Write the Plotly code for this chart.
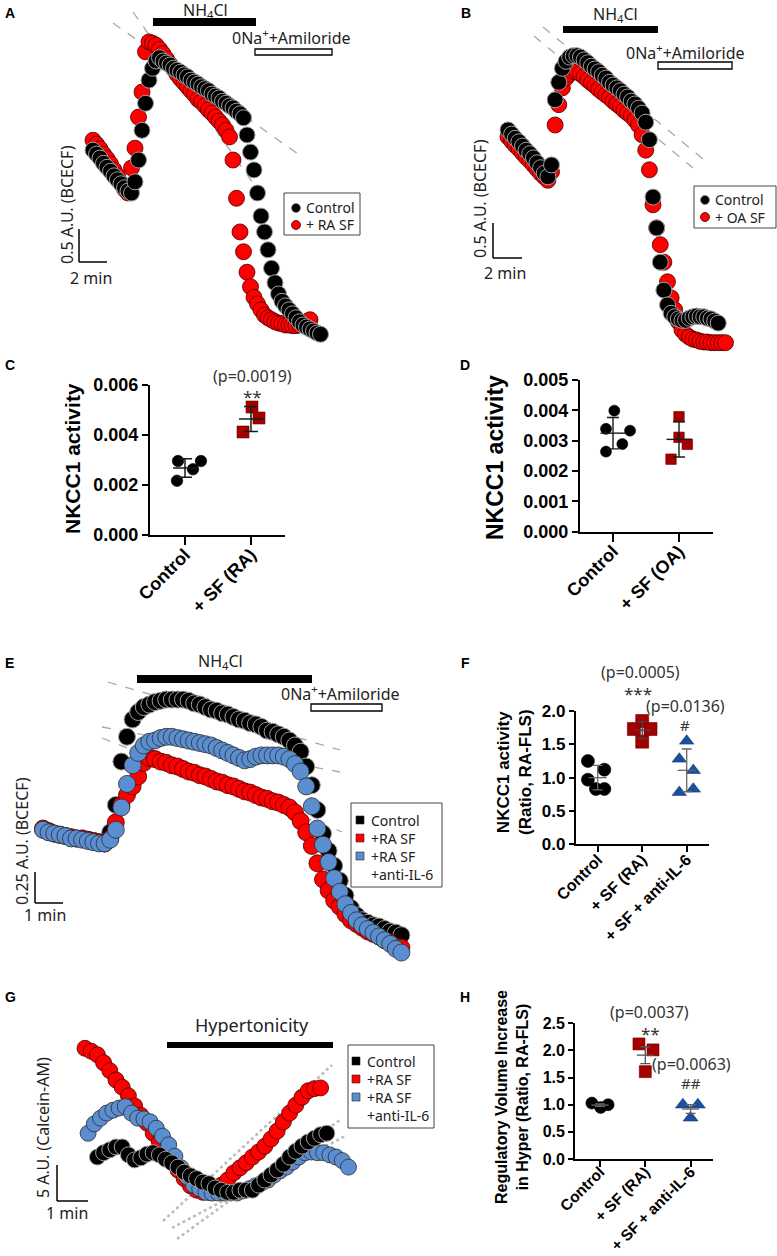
import numpy as np
import plotly.graph_objects as go

W, H = 777, 1256

# ============================ DATA ============================
# A: BCECF trace (A.U.), one sample every 0.25 min
A_SAMPLE_MIN = 0.25
A_control = [3.18, 3.12, 3.06, 2.98, 2.92, 2.86, 2.79, 2.73, 2.67, 2.61, 2.56, 2.53, 2.70, 3.03,
             3.48, 3.89, 4.24, 4.42, 4.53, 4.58, 4.53, 4.50, 4.47, 4.42, 4.39, 4.36, 4.32, 4.29,
             4.24, 4.21, 4.18, 4.14, 4.11, 4.08, 4.03, 4.00, 3.97, 3.92, 3.89, 3.85, 3.82, 3.77,
             3.73, 3.67, 3.41, 3.15, 2.88, 2.53, 2.18, 1.94, 1.67, 1.39, 1.17, 1.00, 0.89, 0.82,
             0.76, 0.70, 0.64, 0.58, 0.53, 0.50, 0.47, 0.44, 0.41, 0.39]
A_ra_sf = [3.33, 3.27, 3.20, 3.12, 3.05, 2.97, 2.88, 2.79, 2.68, 2.59, 2.53, 2.91, 3.21, 3.68,
           4.06, 4.67, 4.82, 4.80, 4.77, 4.71, 4.64, 4.56, 4.48, 4.41, 4.33, 4.26, 4.20, 4.14,
           4.08, 4.02, 3.95, 3.91, 3.85, 3.79, 3.74, 3.68, 3.62, 3.56, 3.48, 3.38, 3.03, 2.45,
           1.94, 1.64, 1.33, 1.11, 0.95, 0.85, 0.76, 0.68, 0.64, 0.61, 0.58, 0.56, 0.55, 0.53,
           0.53, 0.52, 0.52, 0.53, 0.55, 0.58, 0.61]

# B: BCECF trace (A.U.), one sample every 0.25 min
B_SAMPLE_MIN = 0.25
B_control = [3.43, 3.37, 3.31, 3.26, 3.20, 3.14, 3.09, 3.03, 2.96, 2.89, 2.81, 2.76, 2.93, 3.86,
             4.11, 4.31, 4.41, 4.47, 4.49, 4.49, 4.47, 4.43, 4.39, 4.34, 4.30, 4.26, 4.21, 4.17,
             4.11, 4.07, 4.03, 3.99, 3.94, 3.90, 3.84, 3.80, 3.74, 3.67, 3.54, 3.29, 2.47, 2.03,
             1.54, 1.14, 0.93, 0.81, 0.76, 0.73, 0.71, 0.71, 0.74, 0.76, 0.77, 0.76, 0.76, 0.74,
             0.73, 0.70, 0.67]
B_oa_sf = [3.33, 3.27, 3.21, 3.16, 3.10, 3.04, 2.99, 2.93, 2.87, 2.81, 2.76, 2.71, 2.83, 3.50,
           3.79, 4.03, 4.17, 4.23, 4.26, 4.26, 4.23, 4.19, 4.14, 4.10, 4.06, 4.01, 3.97, 3.93,
           3.89, 3.84, 3.80, 3.76, 3.71, 3.67, 3.63, 3.57, 3.50, 3.36, 3.14, 2.86, 2.36, 2.03,
           1.79, 1.54, 1.26, 1.03, 0.86, 0.69, 0.57, 0.51, 0.47, 0.44, 0.43, 0.41, 0.40, 0.40,
           0.39, 0.39, 0.39, 0.39, 0.39]

# C: NKCC1 activity
C_categories = ["Control", "+ SF (RA)"]
C_control = [0.00296, 0.00296, 0.00263, 0.00217]
C_sf_ra = [0.00512, 0.00468, 0.00412]

# D: NKCC1 activity
D_categories = ["Control", "+ SF (OA)"]
D_control = [0.00399, 0.00339, 0.00333, 0.00289, 0.00264]
D_sf_oa = [0.00379, 0.00311, 0.00288, 0.00239]

# E: BCECF trace (A.U.), one sample every 0.2 min
E_SAMPLE_MIN = 0.2
E_control = [1.05, 1.03, 1.02, 1.01, 1.00, 0.99, 0.98, 0.98, 0.97, 0.96, 0.95, 0.94, 1.03, 1.25,
             1.60, 1.80, 1.94, 2.00, 2.04, 2.06, 2.08, 2.09, 2.10, 2.10, 2.10, 2.10, 2.09, 2.07,
             2.06, 2.04, 2.02, 2.01, 1.99, 1.98, 1.96, 1.94, 1.93, 1.91, 1.90, 1.88, 1.85, 1.84,
             1.82, 1.80, 1.77, 1.73, 1.68, 1.56, 1.41, 1.21, 1.02, 0.88, 0.76, 0.64, 0.52, 0.42,
             0.36, 0.32, 0.30, 0.28, 0.27, 0.25, 0.23, 0.22, 0.20]
E_ra_sf = [1.06, 1.04, 1.02, 1.01, 1.00, 0.99, 0.98, 0.98, 0.97, 0.96, 0.95, 0.94, 0.98, 1.11,
           1.25, 1.33, 1.40, 1.48, 1.59, 1.63, 1.62, 1.60, 1.59, 1.57, 1.56, 1.54, 1.52, 1.51,
           1.49, 1.48, 1.46, 1.44, 1.43, 1.41, 1.40, 1.38, 1.36, 1.35, 1.33, 1.31, 1.30, 1.28,
           1.27, 1.25, 1.23, 1.19, 1.12, 1.03, 0.92, 0.78, 0.65, 0.56, 0.48, 0.43, 0.37, 0.32,
           0.29, 0.26, 0.23, 0.21, 0.19, 0.16, 0.14, 0.11, 0.10]
E_ra_sf_il6 = [1.05, 1.03, 1.02, 1.01, 1.00, 0.98, 0.98, 0.97, 0.96, 0.95, 0.94, 0.94, 0.97, 1.05,
               1.23, 1.42, 1.57, 1.67, 1.73, 1.76, 1.77, 1.79, 1.80, 1.80, 1.79, 1.78, 1.77, 1.76,
               1.75, 1.74, 1.73, 1.71, 1.69, 1.67, 1.65, 1.63, 1.61, 1.62, 1.64, 1.65, 1.65, 1.65,
               1.65, 1.64, 1.62, 1.58, 1.52, 1.40, 1.24, 1.06, 0.93, 0.79, 0.66, 0.55, 0.45, 0.38,
               0.32, 0.28, 0.25, 0.22, 0.19, 0.16, 0.13, 0.09, 0.06]

# F: NKCC1 activity (ratio)
F_categories = ["Control", "+ SF (RA)", "+ SF + anti-IL-6"]
F_control = [1.25, 1.12, 0.97, 0.83, 0.83]
F_sf_ra = [1.85, 1.73, 1.73, 1.54]
F_sf_il6 = [1.55, 1.28, 1.11, 0.78, 0.83]

# G: Calcein-AM trace (A.U.), one sample every 0.2 min
G_SAMPLE_MIN = 0.2
G_start_min = {"control": 0.4, "ra": 0.0, "il6": 0.1}
G_control = [14.3, 14.9, 15.3, 15.7, 15.7, 14.6, 13.9, 14.2, 14.7, 14.9, 14.6, 14.0, 13.5, 12.9,
             12.2, 11.7, 11.3, 10.8, 10.6, 10.0, 9.7, 9.4, 9.4, 9.7, 9.7, 9.7, 10.4, 11.1, 11.8,
             12.5, 13.3, 14.3, 15.1, 15.8, 16.4, 16.9, 17.4, 17.6]
G_ra_sf = [29.4, 29.0, 28.5, 27.4, 26.3, 25.0, 24.0, 22.8, 21.4, 20.1, 19.0, 17.6, 16.4, 15.1,
           13.8, 12.5, 11.3, 10.3, 9.7, 9.4, 9.4, 9.9, 10.4, 11.1, 12.1, 12.8, 13.5, 14.3, 15.0,
           15.8, 16.8, 17.9, 19.2, 20.4, 21.5, 22.6, 23.5, 23.8, 23.9]
G_ra_sf_il6 = [17.6, 18.9, 19.7, 20.4, 20.8, 21.1, 21.3, 20.4, 19.7, 19.6, 19.2, 18.3, 17.2, 16.0,
               14.4, 12.8, 11.5, 10.4, 9.9, 9.4, 9.3, 9.3, 9.3, 9.3, 9.3, 9.6, 9.9, 10.3, 10.7,
               11.1, 11.8, 12.4, 12.9, 13.6, 14.3, 14.9, 15.0, 14.9, 14.9, 14.6, 14.3, 13.8, 12.9]

# H: Regulatory volume increase (ratio)
H_categories = ["Control", "+ SF (RA)", "+ SF + anti-IL-6"]
H_control = [1.03, 0.95, 1.00]
H_sf_ra = [2.12, 2.01, 1.61]
H_sf_il6 = [1.00, 1.00, 0.76]

# ============================ STYLE / LAYOUT ============================
ARIAL = "Arial, 'Liberation Sans', Helvetica, sans-serif"
SANS = "'Noto Sans', 'Open Sans', 'DejaVu Sans', sans-serif"
TXT = "#222222"

BLACK_M = dict(color="black", line=dict(color="#a0a0a0", width=1))
RED_M = dict(color="#ff0000", line=dict(color="#4a0000", width=0.8))
BLUE_M = dict(color="#5b8ed0", line=dict(color="#2b2b2b", width=0.8))
DARKRED = "#a30000"
DARKBLUE = "#1d4f9c"

# horizontal scatter offsets of the dots inside each group (category units)
OFFSETS = {
    "C_control": [-0.106, 0.242, 0.121, -0.121], "C_sf_ra": [0.015, 0.121, -0.121],
    "D_control": [0.02, -0.106, 0.258, 0.141, -0.106], "D_sf_oa": [0.0, 0.0, 0.126, -0.121],
    "F_control": [-0.22, 0.15, -0.22, -0.04, 0.15], "F_sf_ra": [0.0, -0.187, 0.187, 0.0],
    "F_sf_il6": [0.0, -0.166, 0.148, -0.166, 0.148],
    "H_control": [-0.18, 0.015, 0.18], "H_sf_ra": [-0.14, 0.17, 0.0], "H_sf_il6": [-0.17, 0.16, 0.0],
}


def fx(px):
    return px / W


def fy(py):
    return 1 - py / H


fig = go.Figure()
layout = {}


def axn(n):
    return "" if n == 1 else str(n)


def hidden_axes(n, xpx, ypx, xr, yr):
    s = axn(n)
    layout["xaxis" + s] = dict(domain=[fx(xpx[0]), fx(xpx[1])], range=xr, visible=False,
                               anchor="y" + s, fixedrange=True, automargin=False)
    layout["yaxis" + s] = dict(domain=[fy(ypx[1]), fy(ypx[0])], range=yr, visible=False,
                               anchor="x" + s, fixedrange=True, automargin=False)


def cat_axes(n, xpx, ypx, xr, yr, ticktext, ytickvals, yfmt, fs_y, fs_x, lw, xticklen=8,
             yticklen=6, standoff=-8):
    s = axn(n)
    layout["xaxis" + s] = dict(
        domain=[fx(xpx[0]), fx(xpx[1])], range=xr, showline=True, linecolor="black", linewidth=lw,
        ticks="outside", ticklen=xticklen, tickwidth=lw, tickcolor="black",
        tickvals=list(range(len(ticktext))), ticktext=ticktext, tickangle=-45,
        ticklabelstandoff=standoff,
        tickfont=dict(family=ARIAL, size=fs_x, color="black", weight="bold"),
        showgrid=False, zeroline=False, anchor="y" + s, fixedrange=True, automargin=False)
    layout["yaxis" + s] = dict(
        domain=[fy(ypx[1]), fy(ypx[0])], range=yr, showline=True, linecolor="black", linewidth=lw,
        ticks="outside", ticklen=yticklen, tickwidth=lw, tickcolor="black",
        tickvals=ytickvals, tickformat=yfmt,
        tickfont=dict(family=ARIAL, size=fs_y, color="black", weight="bold"),
        showgrid=False, zeroline=False, anchor="x" + s, fixedrange=True, automargin=False)


def add_series(n, values, dt, t0, marker, size):
    s = axn(n)
    t = t0 + dt * np.arange(len(values))
    fig.add_trace(go.Scatter(x=t, y=values, mode="markers", xaxis="x" + s, yaxis="y" + s,
                             marker=dict(size=size, **marker), cliponaxis=False,
                             showlegend=False, hoverinfo="skip"))


def add_group(n, idx, values, offsets, symbol, color, size, edge, err_color, kind,
              mean_len, cap_len, thick=1.3):
    s = axn(n)
    v = np.array(values, dtype=float)
    fig.add_trace(go.Scatter(x=idx + np.array(offsets), y=v, mode="markers", xaxis="x" + s,
                             yaxis="y" + s, cliponaxis=False, showlegend=False, hoverinfo="skip",
                             marker=dict(symbol=symbol, size=size, color=color,
                                         line=dict(color=edge, width=0.6))))
    m = v.mean()
    e = v.std(ddof=1)
    if kind == "sem":
        e = e / np.sqrt(len(v))
    fig.add_trace(go.Scatter(x=[idx], y=[m], mode="markers", xaxis="x" + s, yaxis="y" + s,
                             cliponaxis=False, showlegend=False, hoverinfo="skip",
                             marker=dict(symbol="line-ew", size=mean_len / 1.4, color=err_color,
                                         line=dict(color=err_color, width=thick)),
                             error_y=dict(type="data", array=[e], visible=True, width=cap_len / 2,
                                          thickness=thick, color=err_color)))


# ---------- trace panels ----------
# A
hidden_axes(1, (80, 360), (30, 350), [-13 / 14, 267 / 14], [10 / 66, 330 / 66])
add_series(1, A_ra_sf, A_SAMPLE_MIN, 0.0, RED_M, 16)
add_series(1, A_control, A_SAMPLE_MIN, 0.0, BLACK_M, 16)
# B
hidden_axes(2, (490, 777), (20, 355), [-18 / 14.5, 269 / 14.5], [15 / 70, 350 / 70])
add_series(2, B_oa_sf, B_SAMPLE_MIN, 0.0, RED_M, 16)
add_series(2, B_control, B_SAMPLE_MIN, 0.0, BLACK_M, 16)
# E
hidden_axes(5, (30, 445), (680, 965), [-13 / 28, 402 / 28], [-5 / 124, 280 / 124])
add_series(5, E_control, E_SAMPLE_MIN, 0.0, BLACK_M, 17)
add_series(5, E_ra_sf, E_SAMPLE_MIN, 0.0, RED_M, 17)
add_series(5, E_ra_sf_il6, E_SAMPLE_MIN, 0.0, BLUE_M, 17)
# G
hidden_axes(7, (30, 445), (1030, 1245), [-55 / 31, 360 / 31], [15 / 7.2, 230 / 7.2])
add_series(7, G_ra_sf, G_SAMPLE_MIN, G_start_min["ra"], RED_M, 16)
add_series(7, G_ra_sf_il6, G_SAMPLE_MIN, G_start_min["il6"], BLUE_M, 16)
add_series(7, G_control, G_SAMPLE_MIN, G_start_min["control"], BLACK_M, 16)

# ---------- dot plots ----------
# C
cat_axes(3, (150, 285), (385, 535), [-35 / 66, 100 / 66], [0, 0.006], C_categories,
         [0, 0.002, 0.004, 0.006], ".3f", 18, 18, 2.3)
add_group(3, 0, C_control, OFFSETS["C_control"], "circle", "black", 11.5, "black", "#1a1a1a", "sd", 24, 14, 1.5)
add_group(3, 1, C_sf_ra, OFFSETS["C_sf_ra"], "square", DARKRED, 12, "#700000", "#1a1a1a", "sd", 24, 14, 1.5)
# D
cat_axes(4, (580, 713), (380, 531.7), [-33 / 66, 100 / 66], [0, 0.005], D_categories,
         [0, 0.001, 0.002, 0.003, 0.004, 0.005], ".3f", 18, 18, 2.3)
add_group(4, 0, D_control, OFFSETS["D_control"], "circle", "black", 11, "black", "#1a1a1a", "sd", 25, 12, 1.4)
add_group(4, 1, D_sf_oa, OFFSETS["D_sf_oa"], "square", DARKRED, 10.5, "#700000", "#1a1a1a", "sd", 25, 12, 1.4)
# F
cat_axes(6, (575.7, 709.3), (711, 844.3), [-22 / 44.5, 111.6 / 44.5], [0, 2.0], F_categories,
         [0, 0.5, 1.0, 1.5, 2.0], ".1f", 17, 16, 1.8, 6, 5)
add_group(6, 0, F_control, OFFSETS["F_control"], "circle", "black", 13, "black", "#666666", "sd", 18, 10)
add_group(6, 1, F_sf_ra, OFFSETS["F_sf_ra"], "square", DARKRED, 13, "#700000", "#444444", "sd", 18, 10)
add_group(6, 2, F_sf_il6, OFFSETS["F_sf_il6"], "triangle-up", DARKBLUE, 12.5, "#123a78", "#666666", "sd", 18, 10)
# H
cat_axes(8, (575, 713), (1023.3, 1159), [-25 / 45.3, 113 / 45.3], [0, 2.5], H_categories,
         [0, 0.5, 1.0, 1.5, 2.0, 2.5], ".1f", 16, 15.5, 1.8, 6, 5, standoff=-10)
add_group(8, 0, H_control, OFFSETS["H_control"], "circle", "black", 12, "black", "#666666", "sem", 17, 10)
add_group(8, 1, H_sf_ra, OFFSETS["H_sf_ra"], "square", DARKRED, 12, "#700000", "#555555", "sem", 17, 10)
add_group(8, 2, H_sf_il6, OFFSETS["H_sf_il6"], "triangle-up", DARKBLUE, 13, "#123a78", "#666666", "sem", 17, 10)

# ---------- decorations ----------
ann = []
shp = []


def txt(x, y, s, size, family=SANS, color=TXT, xanchor="center", angle=0, weight="normal"):
    ann.append(dict(x=fx(x), y=fy(y), xref="paper", yref="paper", text=s, showarrow=False,
                    xanchor=xanchor, yanchor="middle", textangle=angle,
                    font=dict(family=family, size=size, color=color, weight=weight)))


def rect(x0, y0, x1, y1, fill="black", line="black", lw=0, layer="above"):
    shp.append(dict(type="rect", xref="paper", yref="paper", x0=fx(x0), x1=fx(x1), y0=fy(y1),
                    y1=fy(y0), fillcolor=fill, line=dict(color=line, width=lw), layer=layer))


def seg(x0, y0, x1, y1, color="black", width=1.5, dash="solid", layer="above"):
    shp.append(dict(type="line", xref="paper", yref="paper", x0=fx(x0), y0=fy(y0), x1=fx(x1),
                    y1=fy(y1), line=dict(color=color, width=width, dash=dash), layer=layer))


def dot(cx, cy, r, fill, edge):
    shp.append(dict(type="circle", xref="paper", yref="paper", x0=fx(cx - r), x1=fx(cx + r),
                    y0=fy(cy + r), y1=fy(cy - r), fillcolor=fill, line=dict(color=edge, width=0.8)))


def sq(cx, cy, r, fill):
    rect(cx - r, cy - r, cx + r, cy + r, fill=fill, line="#222222", lw=0.6)


# panel letters
for L, x, y in [("A", 10, 13), ("B", 466, 13), ("C", 10, 365), ("D", 465, 365),
                ("E", 9, 663), ("F", 465, 663), ("G", 10, 997), ("H", 465, 997)]:
    txt(x, y, L, 14, ARIAL, "black", weight="bold")

# --- A
txt(205, 11, "NH<sub>4</sub>Cl", 16)
rect(153, 18, 256, 26)
txt(291, 37, "0Na<sup>+</sup>+Amiloride", 16)
rect(255, 49, 332, 55, fill="white", line="black", lw=1.3)
seg(133, 12, 267, 203, "#a8a8a8", 1.3, "dash", "below")
seg(113, 23, 298, 154, "#a8a8a8", 1.3, "dash", "below")
rect(284, 193, 360, 235, fill="white", line="#444444", lw=1)
dot(296, 208, 4.5, "black", "#888888")
dot(296, 225, 4.5, "#ff0000", "#4a0000")
txt(304, 208, "Control", 14, xanchor="left")
txt(304, 225, "+ RA SF", 14, xanchor="left")
seg(79, 229, 79, 262)
seg(79, 262, 107, 262)
txt(67, 205, "0.5 A.U. (BCECF)", 16, angle=-90)
txt(91, 278, "2 min", 16)

# --- B
txt(615, 15, "NH<sub>4</sub>Cl", 16)
rect(563, 26, 658, 33)
txt(685, 52, "0Na<sup>+</sup>+Amiloride", 16)
rect(658, 62, 732, 69, fill="white", line="black", lw=1.3)
seg(543, 27, 703, 159, "#a8a8a8", 1.3, "dash", "below")
seg(534, 36, 693, 168, "#a8a8a8", 1.3, "dash", "below")
rect(694, 186, 776, 228, fill="white", line="#444444", lw=1)
dot(705, 200, 4.5, "black", "#888888")
dot(705, 217, 4.5, "#ff0000", "#4a0000")
txt(713, 200, "Control", 14, xanchor="left")
txt(713, 217, "+ OA SF", 14, xanchor="left")
seg(493, 223, 493, 258)
seg(493, 258, 522, 258)
txt(480, 199, "0.5 A.U. (BCECF)", 16, angle=-90)
txt(505, 273, "2 min", 16)

# --- C / D
txt(72, 459, "NKCC1 activity", 21, ARIAL, "black", angle=-90, weight="bold")
txt(252, 376, "(p=0.0019)", 16, color="#333333")
txt(252, 396, "**", 17, color="#333333")
txt(495, 457, "NKCC1 activity", 23, ARIAL, "black", angle=-90, weight="bold")

# --- E
txt(220, 661, "NH<sub>4</sub>Cl", 16)
rect(137, 675, 312, 683)
txt(340, 693, "0Na<sup>+</sup>+Amiloride", 16)
rect(311, 704, 382, 711, fill="white", line="black", lw=1.3)
seg(108, 682, 340, 750, "#a8a8a8", 1.3, "dash", "below")
seg(102, 727, 340, 772, "#a8a8a8", 1.3, "dash", "below")
seg(102, 738, 342, 832, "#a8a8a8", 1.3, "dash", "below")
rect(351, 803, 442, 887, fill="white", line="#444444", lw=1)
sq(360, 820, 4, "black")
sq(360, 838, 4, "#ff0000")
sq(360, 856, 4, "#5b8ed0")
txt(369, 820, "Control", 14, xanchor="left")
txt(369, 838, "+RA SF", 14, xanchor="left")
txt(369, 856, "+RA SF", 14, xanchor="left")
txt(369, 874, "+anti-IL-6", 14, xanchor="left")
seg(35, 872, 35, 903)
seg(35, 903, 63, 903)
txt(22, 841, "0.25 A.U. (BCECF)", 16, angle=-90)
txt(45, 915, "1 min", 16)

# --- F
txt(514, 772, "NKCC1 activity<br>(Ratio, RA-FLS)", 17, ARIAL, "black", angle=-90, weight="bold")
txt(640, 672, "(p=0.0005)", 16, color="#333333")
txt(638, 693, "***", 17, color="#333333")
txt(685, 706, "(p=0.0136)", 16, color="#333333")
txt(685, 725, "#", 15, color="#333333")

# --- G
txt(252, 1025, "Hypertonicity", 18)
rect(167, 1042, 333, 1048)
seg(163, 1221, 332, 1065, "#bbbbbb", 2.5, "dot", "below")
seg(177, 1239, 340, 1120, "#bbbbbb", 2.5, "dot", "below")
seg(172, 1228, 347, 1135, "#bbbbbb", 2.5, "dot", "below")
rect(348, 1045, 434, 1128, fill="white", line="#444444", lw=1)
sq(356, 1061, 4, "black")
sq(356, 1079, 4, "#ff0000")
sq(356, 1097, 4, "#5b8ed0")
txt(365, 1061, "Control", 14, xanchor="left")
txt(365, 1079, "+RA SF", 14, xanchor="left")
txt(365, 1097, "+RA SF", 14, xanchor="left")
txt(365, 1115, "+anti-IL-6", 14, xanchor="left")
seg(57, 1165, 57, 1201)
seg(57, 1201, 88, 1201)
txt(43, 1128, "5 A.U. (Calcein-AM)", 16, angle=-90)
txt(67, 1213, "1 min", 16)

# --- H
txt(512, 1097, "Regulatory Volume Increase<br>in Hyper (Ratio, RA-FLS)", 16, ARIAL, "black",
    angle=-90, weight="bold")
txt(649, 1012, "(p=0.0037)", 16, color="#333333")
txt(650, 1033, "**", 17, color="#333333")
txt(691, 1064, "(p=0.0063)", 16, color="#333333")
txt(691, 1083, "##", 15, color="#333333")

fig.update_layout(
    **layout,
    width=W, height=H, autosize=False,
    margin=dict(l=0, r=0, t=0, b=0, pad=0, autoexpand=False),
    paper_bgcolor="white", plot_bgcolor="rgba(0,0,0,0)",
    showlegend=False,
    annotations=ann, shapes=shp,
)

fig.write_html("out.html", config={"displayModeBar": False, "responsive": False},
               post_script="document.body.style.margin='0px';")
